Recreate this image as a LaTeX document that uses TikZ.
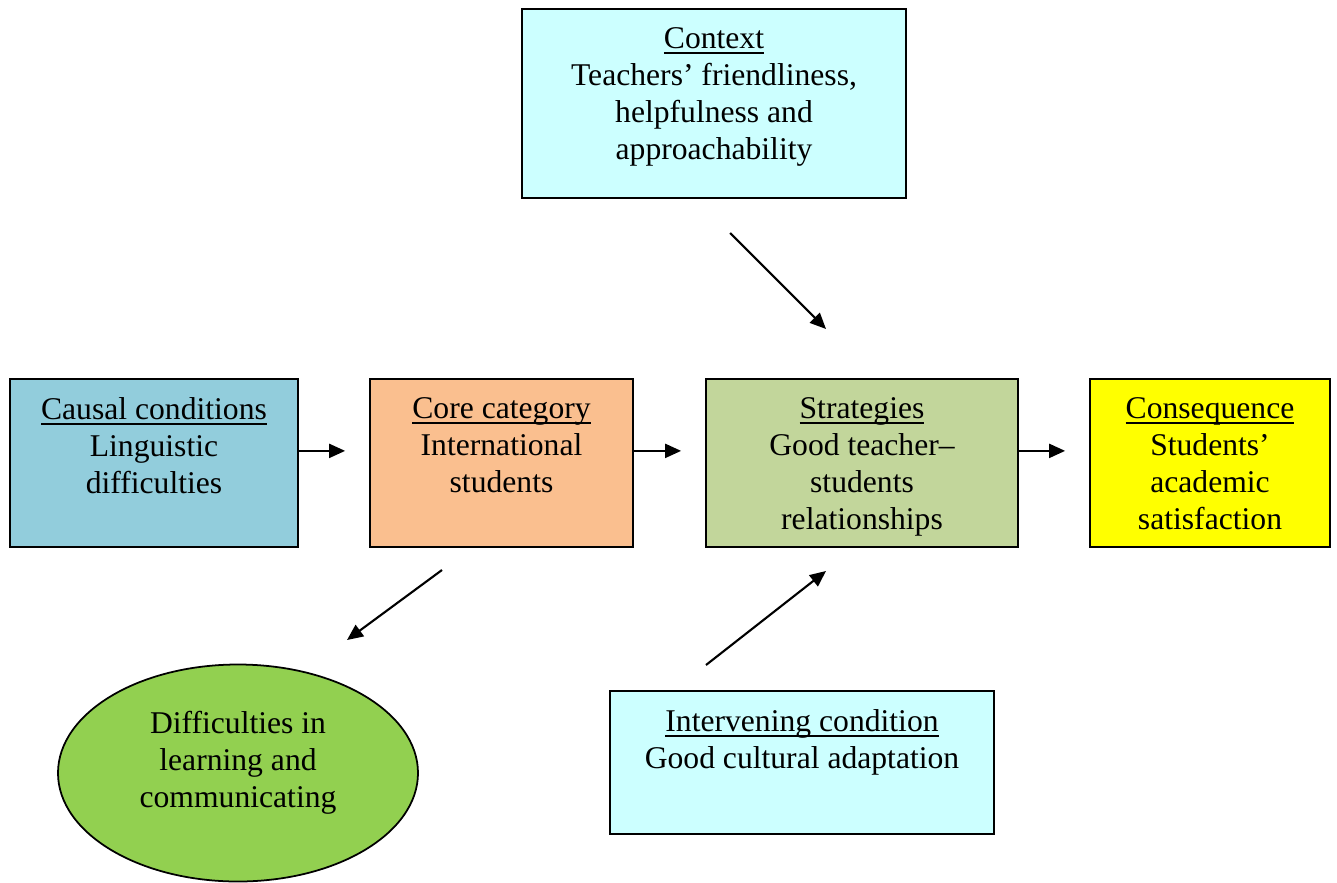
\documentclass[tikz,border=0pt]{standalone}
\usepackage{fontspec}
\setmainfont{Liberation Serif}
\usetikzlibrary{arrows.meta,shapes.geometric}
\definecolor{ctxcyan}{HTML}{CCFFFF}
\definecolor{causalblue}{HTML}{92CDDC}
\definecolor{coreorange}{HTML}{FABF8F}
\definecolor{stratgreen}{HTML}{C2D69B}
\definecolor{consyellow}{HTML}{FFFF00}
\definecolor{diffgreen}{HTML}{92D050}
\newcommand{\headline}[1]{\setbox0\hbox{#1}\rlap{\rule[-2.8pt]{\wd0}{0.9pt}}\box0}
\begin{document}
\begin{tikzpicture}
\tikzset{box style/.style={shape=rectangle, draw=black, line width=1pt, anchor=north, inner sep=0pt},
         text style/.style={anchor=north, align=center, inner ysep=11pt, font=\fontsize{18}{21}\selectfont},
         arrow style/.style={line width=1.2pt, -{Triangle[length=0.32cm, width=0.28cm]}}}
\useasboundingbox (0,0) rectangle (26.74,-17.64);

\node[box style, fill=ctxcyan, minimum width=7.68cm, minimum height=3.78cm,
      label={[text style]north:{\headline{Context}\\Teachers' friendliness,\\helpfulness and\\approachability}}]
      at (14.28, -0.16)  (1) {};

\node[box style, fill=causalblue, minimum width=5.76cm, minimum height=3.36cm,
      label={[text style]north:{\headline{Causal conditions}\\Linguistic\\difficulties}}]
      at (3.08, -7.56)   (2) {};
\node[box style, fill=coreorange, minimum width=5.26cm, minimum height=3.36cm,
      label={[text style]north:{\headline{Core category}\\International\\students}}]
      at (10.03, -7.56)  (3) {};
\node[box style, fill=stratgreen, minimum width=6.24cm, minimum height=3.36cm,
      label={[text style]north:{\headline{Strategies}\\Good teacher--\\students\\relationships}}]
      at (17.24, -7.56)  (4) {};
\node[box style, fill=consyellow, minimum width=4.8cm, minimum height=3.36cm,
      label={[text style]north:{\headline{Consequence}\\Students'\\academic\\satisfaction}}]
      at (24.2, -7.56)   (5) {};

\node[box style, fill=ctxcyan, minimum width=7.68cm, minimum height=2.86cm,
      label={[text style]north:{\headline{Intervening condition}\\Good cultural adaptation}}]
      at (16.04, -13.8)  (6) {};

\node[shape=ellipse, draw=black, line width=1pt, fill=diffgreen, minimum width=7.2cm, minimum height=4.34cm,
      label={[text style, anchor=center, yshift=0.2cm]center:{Difficulties in\\learning and\\communicating}}]
      at (4.76, -15.46)  (7) {};

% free ends of the slanted arrows
\coordinate (c1) at (14.6, -4.66);
\coordinate (c2) at (16.52, -6.58);
\coordinate (i1) at (14.12, -13.3);
\coordinate (i2) at (16.52, -11.42);
\coordinate (d1) at (8.84, -11.4);
\coordinate (d2) at (6.94, -12.8);

\draw[line width=1.2pt]
            ([yshift=0.24cm]2.east)  edge[arrow style, shorten >=0.48cm]  ([yshift=0.24cm]3.west)
            ([yshift=0.24cm]3.east)  edge[arrow style, shorten >=0.48cm]  ([yshift=0.24cm]4.west)
            ([yshift=0.24cm]4.east)  edge[arrow style, shorten >=0.48cm]  ([yshift=0.24cm]5.west)
            (c1)  edge[arrow style]  (c2)
            (i1)  edge[arrow style]  (i2)
            (d1)  edge[arrow style]  (d2)
;
\end{tikzpicture}
\end{document}
